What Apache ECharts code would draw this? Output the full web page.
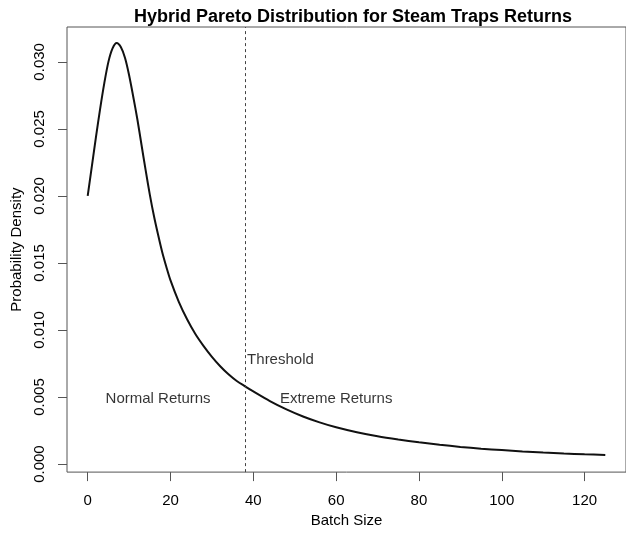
<!DOCTYPE html>
<html>
<head>
<meta charset="utf-8">
<script src="https://cdn.jsdelivr.net/npm/echarts@6/dist/echarts.min.js"></script>
<style>
  html, body { margin: 0; padding: 0; background: #fff; }
  #main { width: 626px; height: 533px; }
</style>
</head>
<body>
<div id="main"></div>
<script>
// density curve
var batchSize = [0, 1, 2, 3, 4, 5, 6, 7, 8, 9, 10, 11, 12, 13, 14, 15, 16, 17, 18, 19, 20,
    22, 24, 26, 28, 30, 32, 34, 36, 38, 40, 44, 48, 52, 56, 60, 65, 70, 75, 80, 85, 90,
    95, 100, 105, 110, 115, 120, 125];
var density = [0.0200, 0.0222, 0.0244, 0.0265, 0.0284, 0.0300, 0.0310, 0.0314, 0.0311, 0.0303,
    0.0290, 0.0274, 0.0257, 0.0238, 0.0219, 0.0201, 0.0185, 0.0171, 0.0158, 0.0147, 0.0137,
    0.0121, 0.0108, 0.0097, 0.0088, 0.0080, 0.0073, 0.0067, 0.0062, 0.0058, 0.00542, 0.00470,
    0.00408, 0.00355, 0.00311, 0.00274, 0.00237, 0.00207, 0.00183, 0.00162, 0.00144, 0.00128,
    0.00115, 0.00104, 0.00094, 0.00086, 0.00079, 0.00073, 0.00068];
var threshold = 38;
var xTicks = [0, 20, 40, 60, 80, 100, 120];
var yTicks = [0, 0.005, 0.010, 0.015, 0.020, 0.025, 0.030];
var notes = [
    [17, 0.0049, 'Normal Returns'],
    [60, 0.0049, 'Extreme Returns']
];
var thresholdNote = [38.5, 0.0078, 'Threshold'];

var lineData = batchSize.map(function (x, i) { return [x, density[i]]; });
var font = 'Liberation Sans, Arial, sans-serif';

var chart = echarts.init(document.getElementById('main'));
var option = {
    animation: false,
    title: {
        text: 'Hybrid Pareto Distribution for Steam Traps Returns',
        left: 348, top: 3, textAlign: 'center',
        textStyle: { fontFamily: font, fontSize: 18, fontWeight: 'bold', color: '#000' }
    },
    grid: {
        left: 67, right: -9, top: 27, bottom: 57,
        show: true, borderColor: '#555', borderWidth: 1
    },
    xAxis: {
        type: 'value', min: -5, max: 130,
        name: 'Batch Size', nameLocation: 'middle', nameGap: 39,
        nameTextStyle: { fontFamily: font, fontSize: 15, color: '#000' },
        axisLine: { show: false, onZero: false },
        splitLine: { show: false },
        axisTick: { show: true, length: 9, customValues: xTicks, lineStyle: { color: '#555' } },
        axisLabel: { customValues: xTicks, margin: 21, fontFamily: font, fontSize: 15, color: '#000' }
    },
    yAxis: {
        type: 'value', min: -0.0006, max: 0.0326,
        name: 'Probability Density', nameLocation: 'middle', nameGap: 42,
        nameTextStyle: { fontFamily: font, fontSize: 15, color: '#000' },
        axisLine: { show: false, onZero: false },
        splitLine: { show: false },
        axisTick: { show: true, length: 9, customValues: yTicks, lineStyle: { color: '#555' } },
        axisLabel: {
            customValues: yTicks, rotate: 90, margin: 20,
            fontFamily: font, fontSize: 15, color: '#000',
            formatter: function (v) { return v.toFixed(3); }
        }
    },
    series: [{
        type: 'line',
        data: lineData,
        showSymbol: false,
        smooth: 0.3,
        lineStyle: { color: '#111', width: 2 },
        markLine: {
            silent: true, symbol: 'none',
            label: { show: false },
            lineStyle: { color: '#444', type: [3, 3], width: 1 },
            data: [{ xAxis: threshold }]
        }
    }, {
        type: 'scatter',
        symbolSize: 0,
        data: notes,
        label: {
            show: true, position: 'inside',
            fontFamily: font, fontSize: 15, color: '#000',
            formatter: function (p) { return p.data[2]; }
        }
    }, {
        type: 'scatter',
        symbolSize: 0,
        data: [thresholdNote],
        label: {
            show: true, position: 'right', distance: 0,
            fontFamily: font, fontSize: 15, color: '#000',
            formatter: function (p) { return p.data[2]; }
        }
    }]
};
chart.setOption(option);
</script>
</body>
</html>
